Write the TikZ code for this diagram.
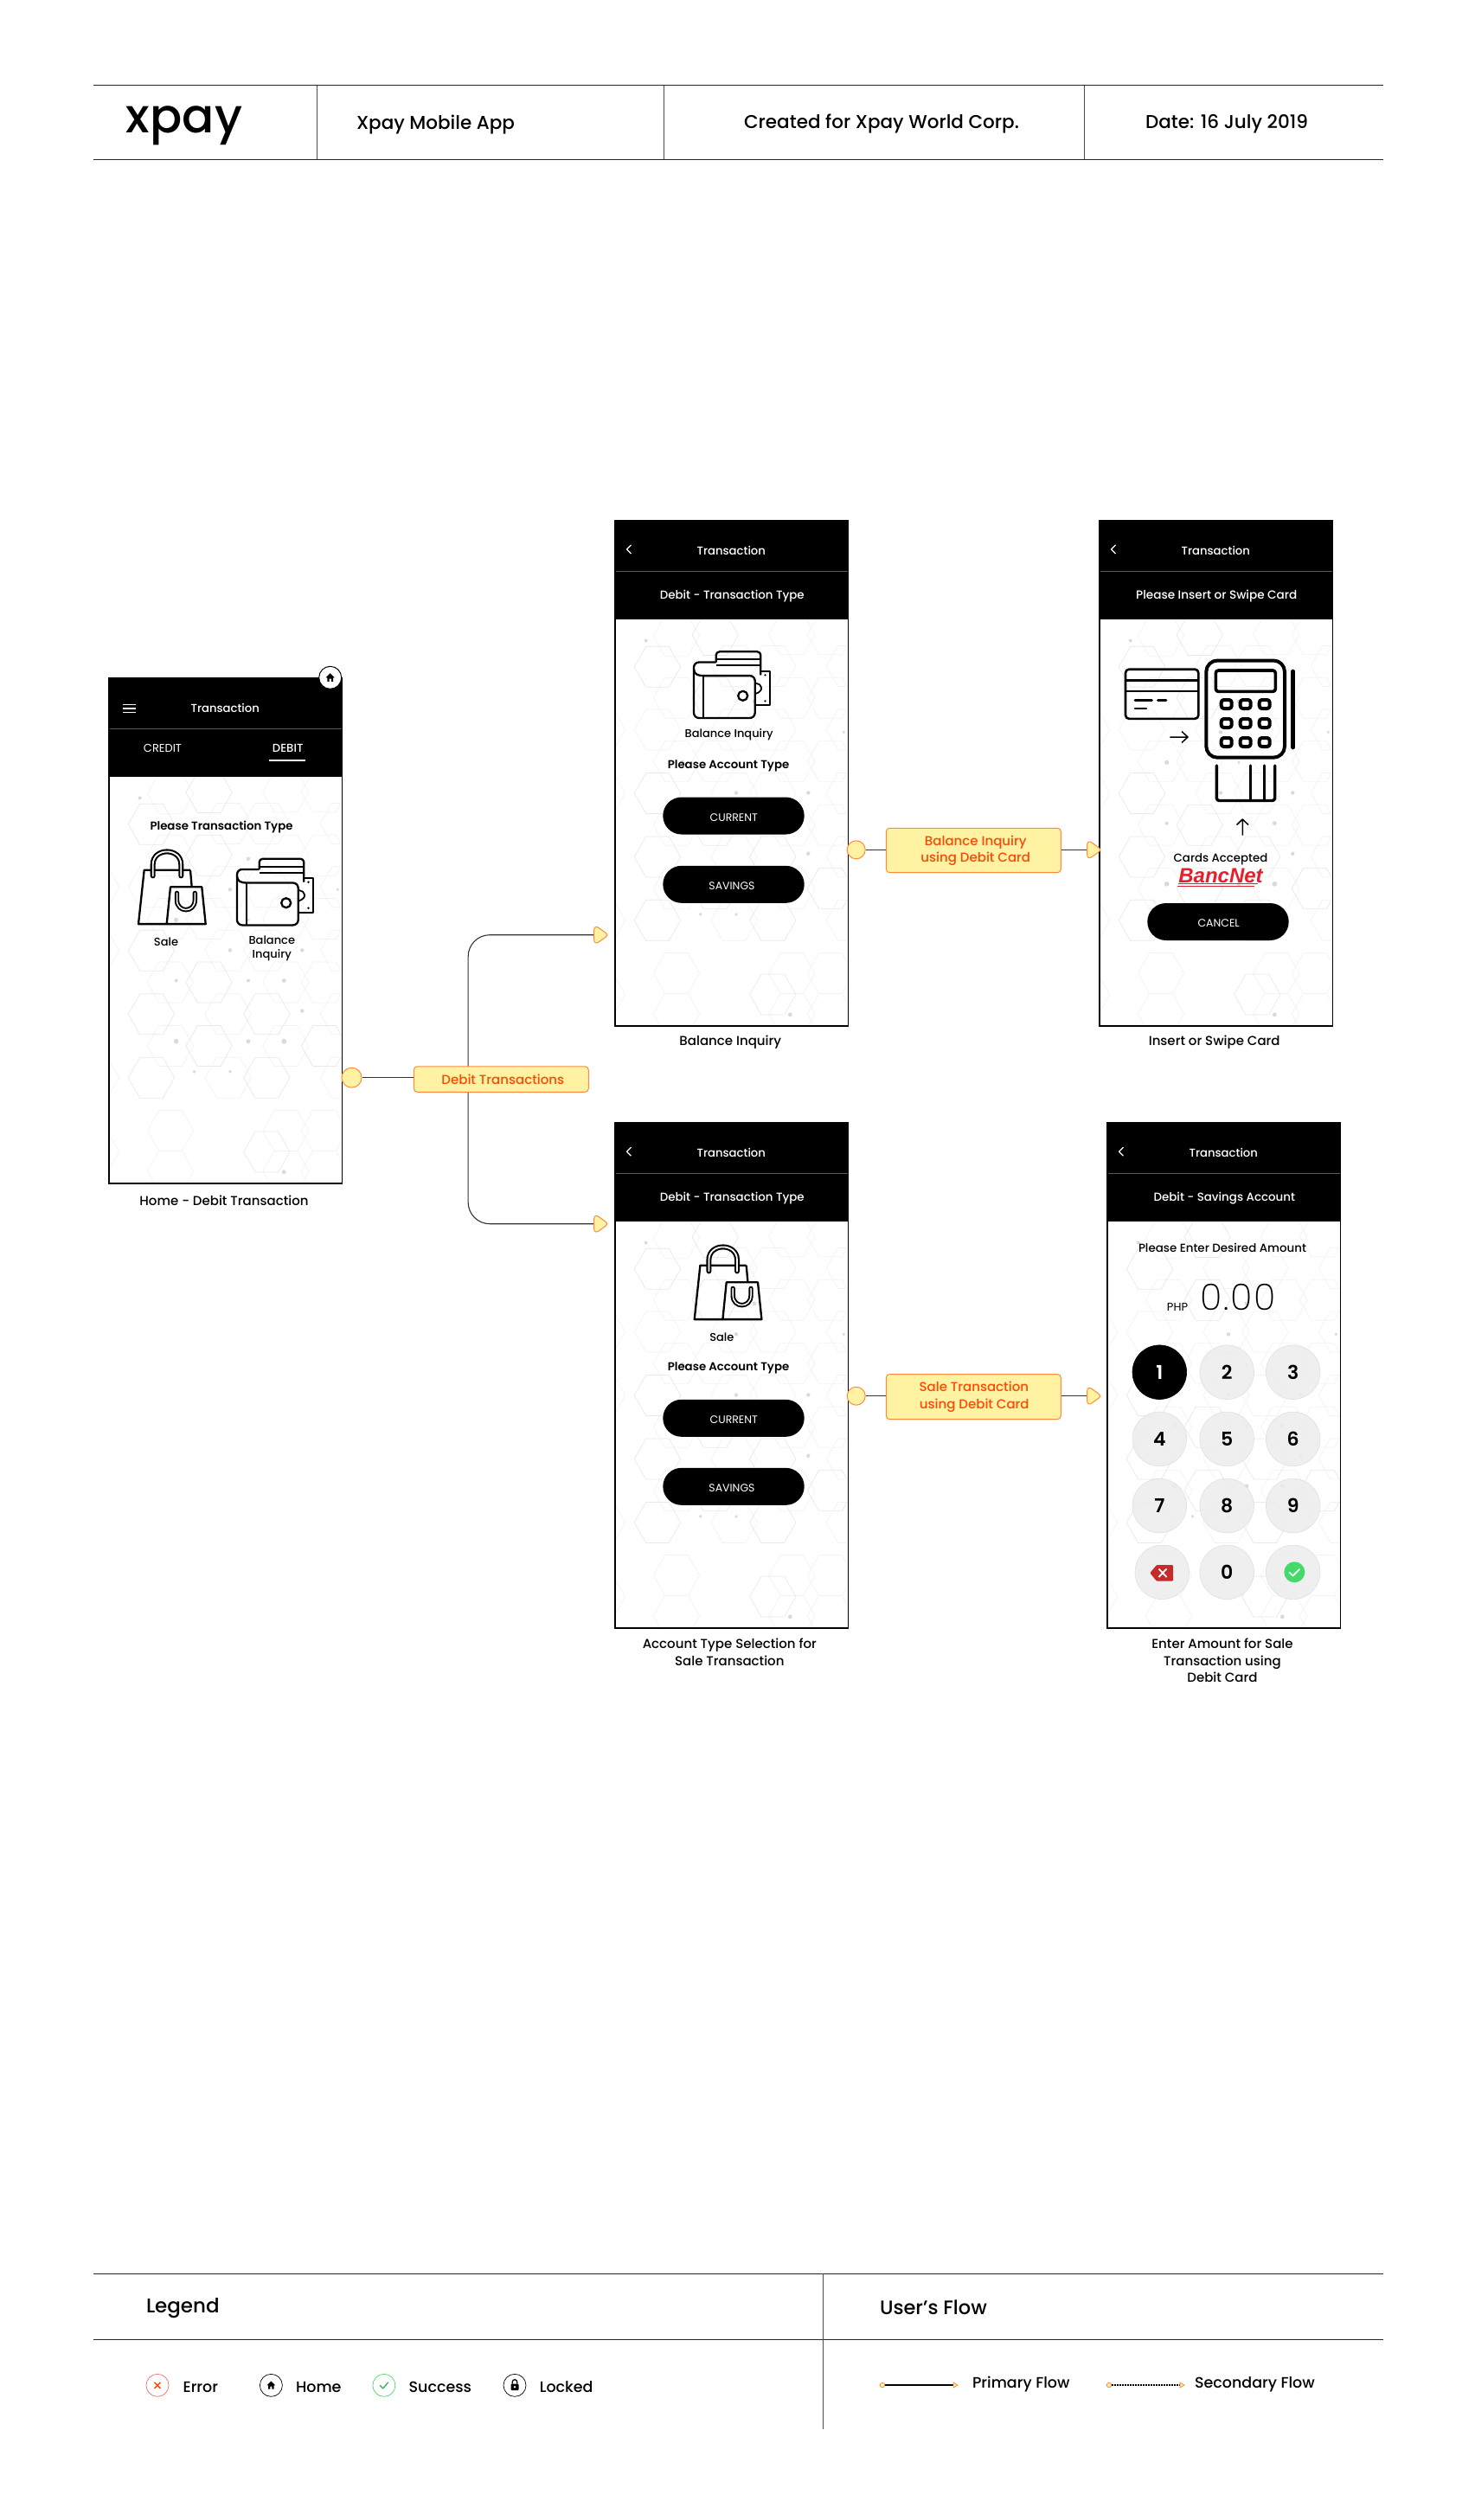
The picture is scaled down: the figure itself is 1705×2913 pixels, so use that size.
\documentclass[tikz,border=0pt]{standalone}
\usepackage{fontspec}
\setmainfont{Poppins}
\newfontfamily\pmed{Poppins Medium}
\newfontfamily\psemi{Poppins SemiBold}
\newfontfamily\plight[LetterSpace=4]{Poppins ExtraLight}
\newfontfamily\libsans{Liberation Sans}
\usetikzlibrary{calc}
\definecolor{noteFill}{HTML}{FFF2A3}
\definecolor{noteLine}{HTML}{FF8A3C}
\definecolor{noteText}{HTML}{FA4A05}
\definecolor{hexCol}{HTML}{F3F3F3}
\definecolor{hexStrong}{HTML}{E9E9E9}
\definecolor{dotCol}{HTML}{DADADA}
\definecolor{keyFill}{HTML}{EDEDED}
\definecolor{okGreen}{HTML}{45D96C}
\definecolor{errRed}{HTML}{C62A2A}
\definecolor{bancRed}{HTML}{E3202C}
\newcommand{\fs}[2]{\fontsize{#1}{#2}\selectfont}
\newcommand{\mystrut}{\rule{0pt}{.92em}}
\tikzset{
  txt/.style={inner sep=0,outer sep=0,align=center,execute at begin node=\mystrut,execute at end node=\mystrut},
  treg/.style={txt,font=\fs{#1}{#1}},
  tmed/.style={txt,font=\pmed\fs{#1}{#1}},
  tsemi/.style={txt,font=\psemi\fs{#1}{#1}},
  caption/.style={txt,font=\pmed\fs{15}{19.5}},
  rule/.style={line width=1pt,draw=black!85},
  vrule/.style={line width=.8pt,draw=black!70},
  frame/.style={draw=black,line width=1.2pt,minimum width=269.4,minimum height=584.4,inner sep=0,fill=none},
  pill/.style={fill=black,text=white,rounded corners=21.5,minimum width=163.4,minimum height=43,inner sep=0},
  note/.style={rectangle,rounded corners=4,draw=noteLine,fill=noteFill,line width=1,text=noteText,inner sep=0,font=\pmed\fs{15}{19.5},align=center},
  startdot/.style={circle,draw=noteLine,fill=noteFill,line width=1,minimum size=21,inner sep=0},
  headst/.style={draw=noteLine,fill=noteFill,line width=1,line join=round},
  flow/.style={draw=black!80,line width=1.1},
  icon/.style={line width=2.3,line join=round,draw=black},
  key/.style={circle,fill=keyFill,fill opacity=.85,text opacity=1,draw=black!12,line width=.6,minimum size=62.6,inner sep=0,font=\psemi\fs{22}{22}},
  legicon/.style={circle,line width=.7,minimum size=26,inner sep=0,fill=white},
}
\newcommand{\hexat}[3]{%
  \pgfmathsetmacro{\hx}{#1/3-14.33}%
  \pgfmathsetmacro{\hy}{#2/2.45-22.86}%
  \draw[draw=#3,line width=.75] (\hx-26.7,\hy) -- (\hx-13.3,\hy-23.5) -- (\hx+13.3,\hy-23.5) -- (\hx+26.7,\hy) -- (\hx+13.3,\hy+23.5) -- (\hx-13.3,\hy+23.5) -- cycle;}
\newcommand{\phonebg}[2]{%
  \begin{scope}[shift={(#1,#2)}]
    \begin{scope}
      \clip (0,115) rectangle (269.4,584.4);
      \foreach \a/\b in {258/385,658/380,792/380,
        458/470,592/470,858/470,
        258/560,792/560,658/560,
        0/650,192/650,458/650,592/650,858/650,
        258/740,392/740,658/740,792/740,
        0/830,458/830,592/830,858/830,
        258/920,658/920,792/920,
        458/1010,858/1010,
        258/1100,658/1100,
        0/1190,458/1190,858/1190,
        258/1340,658/1340,792/1340,
        0/1400,
        258/1455,658/1455,792/1455}{\hexat{\a}{\b}{hexCol}}
      \foreach \a/\b in {392/382,192/472,392/560,192/830,392/920,192/1010,592/1010,
        392/1100,792/1100,192/1190,592/1190,592/1400}{\hexat{\a}{\b}{hexStrong}}
      \foreach \a/\b/\r in {152/398/2,528/570/2.3,465/657/2.2,838/657/1.8,278/743/2.6,
        528/743/1.8,465/829/2.2,715/829/2.2,278/915/2,528/915/2,652/915/2.4,715/1001/2.2,
        278/1087/2.8,528/1087/2.4,652/1087/2.9,341/1173/1.9,465/1173/1.9,652/1457/2.4}{
        \fill[dotCol] (\a/3-14.33,\b/2.45-22.86) circle[radius=\r];
      }
    \end{scope}
    \fill[black] (0,0) rectangle (269.4,115);
    \draw[black!65,line width=.8] (0,59.3) -- (269.4,59.3);
  \end{scope}}
\newcommand{\chev}[2]{\draw[white,line width=1.3,line join=round] (#1+2.5,#2-5) -- (#1-2.5,#2) -- (#1+2.5,#2+5);}
\newcommand{\bagicon}[2]{%
  \begin{scope}[shift={(#1,#2)},icon]
    \draw (60,23.3) -- (6.7,23.3) -- (0,85.7) -- (77.7,85.7) -- (73.3,42.9) -- (37,42.9) -- (32.7,85.7);
    \draw (60,23.3) -- (61.7,42.9);
    \draw[line width=6,line cap=round] (16.7,30) -- (16.7,17) .. controls (16.7,-3) and (49.3,-3) .. (49.3,17) -- (49.3,30);
    \draw[white,line width=1.8,line cap=round] (16.7,30) -- (16.7,17) .. controls (16.7,-3) and (49.3,-3) .. (49.3,17) -- (49.3,30);
    \draw[line width=5.4,line cap=round] (44.5,50) -- (44.5,58) .. controls (44.5,73) and (65.3,73) .. (65.3,58) -- (65.3,50);
    \draw[white,line width=1.5,line cap=round] (44.5,50) -- (44.5,58) .. controls (44.5,73) and (65.3,73) .. (65.3,58) -- (65.3,50);
  \end{scope}}
\newcommand{\walleticon}[2]{%
  \begin{scope}[shift={(#1,#2)},icon]
    \draw (77,22.4) -- (88.3,22.4) -- (88.3,62) -- (70.7,62);
    \draw[line width=1.8] (70.7,36) -- (76,38) .. controls (79,42) and (79,44) .. (75,47) -- (70.7,49);
    \fill (82.5,27) circle[radius=1.3]; \fill (82.5,57) circle[radius=1.3];
    \draw[rounded corners=4] (25.7,12.2) -- (25.7,0) -- (77.3,0) -- (77.3,27);
    \draw (25.7,9) -- (77.3,9) (25.7,16) -- (77.3,16);
    \draw[rounded corners=6] (25.7,12.2) -- (0,12.2) -- (0,76.7) -- (70.7,76.7) -- (70.7,27.8) -- (25,27.8);
    \draw (25,27.8) -- (10.7,27.8) .. controls (5,27.8) and (0,26) .. (0,20);
    \draw (10.7,27.8) -- (10.7,76.7);
    \draw (56.7,51) circle[radius=5.5];
  \end{scope}}
\newcommand{\headmark}[1]{%
  \begin{scope}[shift={(#1)}]
    \draw[headst] (0,-5.5) .. controls (0,-9.5) and (2.5,-10) .. (5,-8.5) -- (13.5,-2.4) .. controls (15.8,-1) and (15.8,1) .. (13.5,2.4) -- (5,8.5) .. controls (2.5,10) and (0,9.5) .. (0,5.5) -- cycle;
  \end{scope}}
\newcommand{\houseglyph}[3]{%
  \begin{scope}[shift={(#1,#2)},scale=#3]
    \fill[black] (-6,0) -- (0,-6) -- (6,0) -- (4,0) -- (4,5.5) -- (1.3,5.5) -- (1.3,1.5) -- (-1.3,1.5) -- (-1.3,5.5) -- (-4,5.5) -- (-4,0) -- cycle;
  \end{scope}}
\begin{document}
\begin{tikzpicture}[x=1pt,y=-1pt]
\useasboundingbox (0,0) rectangle (1705,2913);
\fill[white] (0,0) rectangle (1705,2913);
\begin{scope}[xshift=1pt]

% Title block
\draw[rule] (106.8,98.5) -- (1597.5,98.5);
\draw[rule] (106.8,184.3) -- (1597.5,184.3);
\draw[vrule] (365.8,98.5) -- (365.8,184.3);
\draw[vrule] (766,98.5) -- (766,184.3);
\draw[vrule] (1252.5,98.5) -- (1252.5,184.3);
\node[tmed=55] (logo) at (212,135) {xpay};
\node[tmed=21.5,anchor=west] (appname) at (411,142) {Xpay Mobile App};
\node[tmed=21.5] (createdfor) at (1018,141) {Created for Xpay World Corp.};
\node[tmed=21.5] (datetext) at (1417,141) {Date: 16 July 2019};

% Home screen
\phonebg{124.3}{782.9}
\node[frame,anchor=north west] (home) at (124.3,782.9) {};
\draw[white,line width=1.1] (141.3,814.3) -- (156,814.3) (141.3,819) -- (156,819) (141.3,823.5) -- (156,823.5);
\node[tmed=13.2,text=white] (homeTitle) at (259.3,817) {Transaction};
\node[treg=13,text=white] (credit) at (187,863.7) {CREDIT};
\node[tmed=13.2,text=white] (debit) at (331.7,863.7) {DEBIT};
\draw[white,line width=1.5] (310,879) -- (352,879);
\node[tsemi=13.3] (homePrompt) at (255,954.7) {Please Transaction Type};
\bagicon{159}{982.4}
\walleticon{273}{992.7}
\node[tmed=13] (homeSale) at (191,1088) {Sale};
\node[txt,font=\pmed\fs{13}{16}] (homeBal) at (313.3,1096) {Balance\\Inquiry};
\node[circle,draw=black,fill=white,line width=1,minimum size=26,inner sep=0] (homeBadge) at (380.7,783.3) {};
\houseglyph{380.7}{783.3}{.85}
\node[caption] (capHome) at (258,1387) {Home - Debit Transaction};

% Balance Inquiry screen
\phonebg{709.3}{601}
\node[frame,anchor=north west] (balance) at (709.3,601) {};
\chev{726}{635}
\node[tmed=13.2,text=white] (balTitle) at (844.3,635) {Transaction};
\node[tmed=13.4,text=white] (balSub) at (845.3,688) {Debit - Transaction Type};
\walleticon{801}{753.3}
\node[tmed=13] (balLabel) at (841.7,848.4) {Balance Inquiry};
\node[tsemi=13.3] (balPrompt) at (841,884) {Please Account Type};
\node[pill] (balCurrentBtn) at (847,943) {};
\node[treg=12.5,text=white] (balCurrent) at (847.3,943.5) {CURRENT};
\node[pill] (balSavingsBtn) at (847,1022.3) {};
\node[treg=12.5,text=white] (balSavings) at (845,1022.7) {SAVINGS};
\node[caption] (capBal) at (843.3,1203.5) {Balance Inquiry};

% Insert or Swipe screen
\phonebg{1269.3}{601}
\node[frame,anchor=north west] (insert) at (1269.3,601) {};
\chev{1286}{635}
\node[tmed=13.2,text=white] (insTitle) at (1404.3,635) {Transaction};
\node[tmed=13.6,text=white] (insSub) at (1405.3,688) {Please Insert or Swipe Card};
\begin{scope}[line join=round,draw=black]
  \draw[line width=2.6,rounded corners=4] (1300,773.7) rectangle (1384.3,830.8);
  \draw[line width=2.6] (1300,786.7) -- (1384.3,786.7) (1300,799) -- (1384.3,799);
  \draw[line width=2.6,line cap=round] (1311,809.6) -- (1330.5,809.6) (1337.5,809.6) -- (1347,809.6) (1311,819) -- (1324,819);
  \draw[line width=1.5] (1351.3,852) -- (1372,852) (1365,845.5) -- (1372,852) -- (1365,858.5);
  \draw[line width=4,rounded corners=13] (1393.3,763.5) rectangle (1484,875.7);
  \draw[line width=3.6,rounded corners=3] (1404.3,775) rectangle (1473.3,799.4);
  \foreach \kx in {1416.7,1438.7,1460.7}{
    \foreach \ky in {814,836,858}{
      \draw[line width=4,rounded corners=3] (\kx-6,\ky-5) rectangle (\kx+6,\ky+5);
    }
  }
  \draw[line width=4.6,line cap=round] (1493.7,776) -- (1493.7,864);
  \draw[line width=3.4,line cap=round,rounded corners=3] (1405.3,885) -- (1405.3,925.5) -- (1472.7,925.5) -- (1472.7,885);
  \draw[line width=3.4,line cap=round] (1444.3,885) -- (1444.3,925.5) (1460.3,885) -- (1460.3,925.5);
  \draw[line width=1.5] (1435.3,965.5) -- (1435.3,947) (1428.5,953.5) -- (1435.3,947) -- (1442,953.5);
\end{scope}
\node[tmed=13.3] (insAccepted) at (1410,992) {Cards Accepted};
\node[inner sep=0,text=bancRed,font=\libsans\bfseries\itshape\fs{24}{24}] (bancnet) at (1410,1012) {BancNet};
\draw[bancRed,line width=.7] (1361,1021.5) -- (1453,1021.5) (1360,1024) -- (1449,1024);
\node[pill] (cancelBtn) at (1407,1065.5) {};
\node[treg=12.5,text=white] (cancelText) at (1407.7,1065.5) {CANCEL};
\node[caption] (capIns) at (1402.7,1203.5) {Insert or Swipe Card};

% Sale account screen
\phonebg{709.3}{1297}
\node[frame,anchor=north west] (saleacct) at (709.3,1297) {};
\chev{726}{1331.2}
\node[tmed=13.2,text=white] (saleTitle) at (844.3,1331.2) {Transaction};
\node[tmed=13.4,text=white] (saleSub) at (845.3,1383.9) {Debit - Transaction Type};
\bagicon{801.7}{1439.4}
\node[tmed=13] (saleLabel) at (833.3,1544.2) {Sale};
\node[tsemi=13.3] (salePrompt) at (841,1580) {Please Account Type};
\node[pill] (saleCurrentBtn) at (847,1639.3) {};
\node[treg=12.5,text=white] (saleCurrent) at (847.3,1639.3) {CURRENT};
\node[pill] (saleSavingsBtn) at (847,1718.3) {};
\node[treg=12.5,text=white] (saleSavings) at (845,1718.5) {SAVINGS};
\node[caption] (capSale) at (842.3,1909.7) {Account Type Selection for\\Sale Transaction};

% Keypad screen
\phonebg{1278.3}{1297}
\node[frame,anchor=north west] (keypad) at (1278.3,1297) {};
\chev{1295}{1331.2}
\node[tmed=13.2,text=white] (keyTitle) at (1413.3,1331.2) {Transaction};
\node[tmed=13.4,text=white] (keySub) at (1414.3,1384.1) {Debit - Savings Account};
\node[tmed=13.4] (keyPrompt) at (1412,1441.5) {Please Enter Desired Amount};
\node[treg=13] (php) at (1360,1509.5) {PHP};
\node[inner sep=0,font=\plight\fs{42}{42},anchor=base] (amount) at (1430,1514.6) {0.00};
\node[key,fill=black,draw=black,fill opacity=1,text=white] (k1) at (1339.3,1586.2) {1};
\node[key] (k2) at (1417.2,1586.2) {2};
\node[key] (k3) at (1493.7,1586.2) {3};
\node[key] (k4) at (1339.3,1663.4) {4};
\node[key] (k5) at (1417.2,1663.4) {5};
\node[key] (k6) at (1493.7,1663.4) {6};
\node[key] (k7) at (1339.3,1740.6) {7};
\node[key] (k8) at (1417.2,1740.6) {8};
\node[key] (k9) at (1493.7,1740.6) {9};
\node[key] (kdel) at (1342.3,1817.3) {};
\node[key] (k0) at (1417.2,1817.3) {0};
\node[key] (kok) at (1493.7,1817.3) {};
\fill[errRed,rounded corners=1] (1328.3,1818.3) -- (1336,1809) -- (1355,1809) -- (1355,1827.7) -- (1336,1827.7) -- cycle;
\draw[white,line width=1.8] (1338.5,1813.5) -- (1347.5,1823) (1347.5,1813.5) -- (1338.5,1823);
\fill[okGreen] (1495.3,1817.3) circle[radius=12];
\draw[white,line width=1.8,line cap=round,line join=round] (1489.5,1817.8) -- (1493.5,1821.5) -- (1501,1814);
\node[caption] (capKey) at (1412,1919.5) {Enter Amount for Sale\\Transaction using\\Debit Card};

% Flow: Debit Transactions
\node[startdot,minimum size=23] (d0) at (405.5,1245.7) {};
\node[note,minimum width=202,minimum height=29.5] (n0) at (578.3,1247.5) {\hspace*{4pt}Debit Transactions};
\coordinate (h1) at (685.7,1080.7);
\coordinate (h2) at (685.7,1414.7);
\coordinate (n0top) at ($(n0.north west)!0.312!(n0.north east)$);
\coordinate (n0bot) at ($(n0.south west)!0.312!(n0.south east)$);
\draw[flow] (d0) -- (d0 -| n0.west);
\draw[flow,rounded corners=25] (n0top) |- (h1);
\draw[flow,rounded corners=25] (n0bot) |- (h2);
\headmark{h1}
\headmark{h2}

% Flow: Balance Inquiry
\node[startdot] (d1) at (988.7,982.3) {};
\node[note,minimum width=202,minimum height=51.4] (n1) at (1124.3,983) {\hspace*{5pt}Balance Inquiry\\\hspace*{5pt}using Debit Card};
\coordinate (h3) at (1255.7,982.3);
\draw[flow] (d1) -- (d1 -| n1.west);
\draw[flow] (n1.east |- h3) -- (h3);
\headmark{h3}

% Flow: Sale
\node[startdot] (d2) at (988.7,1613.7) {};
\node[note,minimum width=202,minimum height=52] (n2) at (1124.3,1614.6) {\hspace*{1pt}Sale Transaction\\\hspace*{2pt}using Debit Card};
\coordinate (h4) at (1255.7,1613.7);
\draw[flow] (d2) -- (d2 -| n2.west);
\draw[flow] (n2.east |- h4) -- (h4);
\headmark{h4}

% Legend block
\draw[rule] (106.8,2628.3) -- (1597.5,2628.3);
\draw[rule] (106.8,2704.3) -- (1597.5,2704.3);
\draw[vrule] (950,2628.3) -- (950,2807.7);
\node[tmed=23,anchor=west] (legendHead) at (168,2666) {Legend};
\node[tmed=22.5,anchor=west] (flowHead) at (1016,2665) {User’s Flow};

\node[legicon,draw=red!60] (legErr) at (181,2757.3) {};
\draw[noteText,line width=1.3] (177.5,2753.8) -- (184.5,2760.8) (184.5,2753.8) -- (177.5,2760.8);
\node[tmed=17.5,anchor=west] (txtErr) at (210.6,2757) {Error};
\node[legicon,draw=black] (legHome) at (312.4,2757.3) {};
\houseglyph{312.4}{2757.3}{.8}
\node[tmed=17.5,anchor=west] (txtHome) at (341,2757) {Home};
\node[legicon,draw=okGreen] (legOk) at (442.9,2757.3) {};
\draw[okGreen!85!black,line width=1.4,line cap=round,line join=round] (438.5,2757.5) -- (441.8,2760.8) -- (447.5,2754);
\node[tmed=17.5,anchor=west] (txtOk) at (471.6,2757) {Success};
\node[legicon,draw=black] (legLock) at (594,2757.3) {};
\fill[black,rounded corners=1] (589.5,2755.5) rectangle (598.5,2763);
\draw[black,line width=1.3] (591.2,2755.5) -- (591.2,2753.5) .. controls (591.2,2749.8) and (596.8,2749.8) .. (596.8,2753.5) -- (596.8,2755.5);
\fill[white] (594,2759.2) circle[radius=1.4];
\node[tmed=17.5,anchor=west] (txtLock) at (622.8,2757) {Locked};

\node[circle,draw=noteLine,fill=noteFill,line width=.8,minimum size=5.5,inner sep=0] (p0) at (1019,2757) {};
\coordinate (p1) at (1101,2757);
\draw[black,line width=1.3] (p0) -- (p1);
\draw[draw=noteLine,fill=noteFill,line width=.8,line join=round] (p1) ++(0,-3) -- ++(5,3) -- ++(-5,3) -- cycle;
\node[tmed=17.5,anchor=west] (txtPrimary) at (1123,2755) {Primary Flow};

\node[circle,draw=noteLine,fill=noteFill,line width=.8,minimum size=5.5,inner sep=0] (s0) at (1281,2757) {};
\coordinate (s1) at (1363,2757);
\draw[black,line width=1.3,dash pattern=on 1.5pt off 1.5pt] (s0) -- (s1);
\draw[draw=noteLine,fill=noteFill,line width=.8,line join=round] (s1) ++(0,-3) -- ++(5,3) -- ++(-5,3) -- cycle;
\node[tmed=17.5,anchor=west] (txtSecondary) at (1380,2755) {Secondary Flow};
\end{scope}
\end{tikzpicture}
\end{document}
